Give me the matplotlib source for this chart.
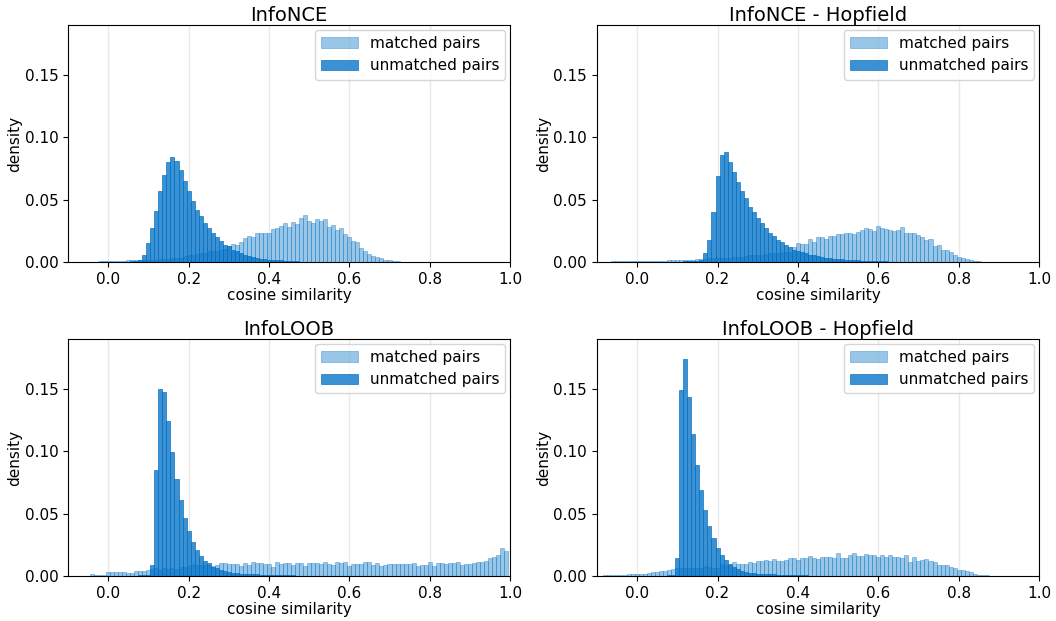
import numpy as np
import matplotlib
matplotlib.use("Agg")
import matplotlib.pyplot as plt

# bin centres in steps of 0.01 from -0.10 to 1.00
bin_centres = np.arange(-10, 101) / 100.0
bin_width = 0.01

# per-bin fractions (x 1e-3), k = -10 ... 100
nce_matched = [
    0.2, 0.2, 0.2, 0.3, 0.3, 0.3, 0.4, 0.4, 0.5, 0.5,
    0.6, 0.6, 0.7, 0.8, 0.9, 1.3, 1.4, 1.5, 1.6, 1.7,
    1.8, 2.0, 2.0, 2.1, 2.5, 2.8, 3.0, 3.1, 3.2, 4.5,
    5.5, 6.0, 6.2, 7.0, 7.2, 8.5, 9.0, 9.2, 10.0, 10.5,
    13.0, 14.7, 14.0, 16.0, 19.0, 20.5, 20.0, 23.0, 23.0, 23.7,
    23.7, 26.9, 27.0, 29.3, 31.7, 28.5, 32.5, 30.9, 35.7, 38.1,
    33.3, 31.7, 34.9, 33.3, 34.9, 28.5, 30.1, 26.1, 27.7, 22.1,
    19.7, 16.5, 15.7, 10.9, 8.5, 6.1, 4.5, 3.7, 2.9, 1.3,
    1.3, 0.8, 0.5, 0.3, 0.2, 0.1, 0, 0, 0, 0,
    0, 0, 0, 0, 0, 0, 0, 0, 0, 0,
    0, 0, 0, 0, 0, 0, 0, 0, 0, 0,
    0,
]
nce_unmatched = [
    0, 0, 0, 0, 0, 0.1, 0.1, 0.1, 0.1, 0.1,
    0.2, 0.2, 0.2, 0.3, 0.3, 0.4, 0.5, 1.0, 2.0, 6.0,
    15.0, 27.0, 41.0, 57.0, 70.0, 80.0, 84.0, 81.0, 74.0, 65.0,
    57.0, 49.0, 42.0, 37.0, 31.0, 27.0, 23.0, 20.0, 17.0, 14.0,
    12.5, 10.0, 8.5, 7.0, 5.6, 4.5, 3.7, 3.0, 2.7, 2.4,
    2.0, 1.8, 1.5, 1.3, 1.1, 0.9, 0.7, 0.5, 0.4, 0.3,
    0.3, 0.2, 0.2, 0.2, 0.1, 0.1, 0, 0, 0, 0,
    0, 0, 0, 0, 0, 0, 0, 0, 0, 0,
    0, 0, 0, 0, 0, 0, 0, 0, 0, 0,
    0, 0, 0, 0, 0, 0, 0, 0, 0, 0,
    0, 0, 0, 0, 0, 0, 0, 0, 0, 0,
    0,
]
hnce_matched = [
    0.3, 0.3, 0.4, 0.4, 0.5, 0.5, 0.5, 0.5, 0.5, 0.5,
    0.5, 0.5, 0.5, 0.6, 0.6, 0.6, 0.7, 0.8, 1.3, 1.4,
    1.4, 1.5, 1.5, 1.6, 2.0, 2.2, 2.6, 2.8, 3.0, 3.0,
    3.1, 3.1, 3.2, 3.6, 3.8, 4.0, 4.2, 5.0, 5.3, 5.5,
    5.8, 6.0, 6.2, 7.0, 7.3, 7.5, 7.8, 8.0, 8.2, 11.7,
    14.9, 14.1, 14.1, 18.1, 15.7, 19.7, 19.7, 18.1, 20.5, 20.5,
    22.9, 22.9, 23.7, 23.7, 22.9, 24.5, 26.1, 27.7, 26.9, 25.3,
    29.3, 27.7, 26.9, 26.1, 25.3, 26.1, 28.5, 23.7, 23.7, 23.7,
    21.3, 19.7, 17.3, 18.1, 12.5, 13.3, 9.3, 9.3, 7.7, 5.3,
    3.7, 2.9, 2.1, 1.3, 0.8, 0.5, 0.3, 0.2, 0.1, 0,
    0, 0, 0, 0, 0, 0, 0, 0, 0, 0,
    0,
]
hnce_unmatched = [
    0.2, 0.2, 0.2, 0.2, 0.2, 0.2, 0.2, 0.2, 0.2, 0.2,
    0.2, 0.2, 0.2, 0.2, 0.2, 0.3, 0.3, 0.3, 0.3, 0.3,
    0.4, 0.4, 0.5, 0.5, 0.6, 0.8, 1.6, 7.0, 18.0, 40.5,
    69.0, 86.0, 88.0, 80.0, 72.5, 64.5, 57.0, 51.0, 44.5, 40.0,
    35.0, 31.0, 27.0, 23.7, 20.5, 18.0, 15.7, 13.3, 11.7, 10.0,
    8.8, 7.7, 7.0, 6.0, 5.3, 4.5, 4.0, 3.2, 3.0, 2.5,
    2.2, 2.1, 2.0, 1.6, 1.4, 1.3, 1.2, 1.0, 0.9, 0.8,
    0.7, 0.6, 0.5, 0.4, 0.4, 0.3, 0.3, 0.2, 0.2, 0.1,
    0.1, 0, 0, 0, 0, 0, 0, 0, 0, 0,
    0, 0, 0, 0, 0, 0, 0, 0, 0, 0,
    0, 0, 0, 0, 0, 0, 0, 0, 0, 0,
    0,
]
loob_matched = [
    0.2, 0.2, 0.3, 0.3, 0.3, 0.3, 1.2, 0.8, 0.8, 0.8,
    3.0, 3.0, 3.0, 3.0, 3.0, 2.0, 2.0, 3.7, 3.7, 3.7,
    4.5, 5.5, 6.0, 5.0, 6.0, 5.2, 6.0, 5.2, 7.5, 7.5,
    8.3, 9.9, 9.0, 8.5, 8.5, 9.0, 8.3, 9.1, 10.7, 10.7,
    9.9, 9.9, 9.9, 8.3, 10.7, 9.1, 11.5, 10.7, 10.7, 9.9,
    9.9, 7.5, 11.5, 9.9, 10.7, 10.7, 9.1, 10.7, 10.7, 8.3,
    10.7, 10.7, 10.7, 9.9, 11.5, 9.9, 9.1, 11.5, 10.7, 11.5,
    8.3, 9.9, 9.9, 9.9, 11.5, 11.5, 9.1, 10.7, 8.3, 9.1,
    9.9, 9.9, 9.9, 9.9, 9.9, 9.9, 10.7, 8.3, 9.1, 9.1,
    11.5, 8.3, 10.7, 10.7, 9.9, 10.7, 10.7, 11.5, 9.1, 9.9,
    9.9, 10.7, 11.5, 11.5, 12.3, 14.7, 15.5, 17.1, 22.7, 20.3,
    0,
]
loob_unmatched = [
    0.1, 0.1, 0.1, 0.1, 0.1, 0.1, 0.1, 0.1, 0.1, 0.1,
    0.1, 0.1, 0.2, 0.2, 0.2, 0.2, 0.3, 0.3, 0.4, 0.5,
    1.0, 9.1, 85.0, 150.0, 147.5, 124.0, 99.5, 77.9, 61.0, 46.7,
    36.3, 27.5, 21.1, 16.3, 12.3, 10.7, 7.5, 6.7, 5.1, 4.3,
    3.5, 2.7, 2.7, 1.9, 1.9, 1.6, 1.3, 1.3, 1.1, 1.1,
    1.0, 0.9, 0.8, 0.7, 0.6, 0.5, 0.4, 0.3, 0.2, 0.2,
    0.1, 0, 0, 0, 0, 0, 0, 0, 0, 0,
    0, 0, 0, 0, 0, 0, 0, 0, 0, 0,
    0, 0, 0, 0, 0, 0, 0, 0, 0, 0,
    0, 0, 0, 0, 0, 0, 0, 0, 0, 0,
    0, 0, 0, 0, 0, 0, 0, 0, 0, 0,
    0,
]
hloob_matched = [
    0.3, 0.3, 0.5, 0.5, 0.6, 0.8, 0.8, 0.8, 1.9, 1.9,
    1.9, 1.9, 1.9, 2.7, 3.5, 3.5, 4.3, 4.3, 5.0, 5.9,
    6.0, 6.0, 6.5, 6.0, 6.0, 6.7, 6.0, 8.0, 7.5, 6.7,
    6.7, 9.9, 9.0, 9.0, 11.5, 9.9, 9.9, 9.9, 11.5, 10.7,
    12.3, 12.3, 13.0, 12.3, 13.9, 12.3, 12.3, 13.0, 14.7, 14.7,
    13.1, 14.7, 14.7, 16.3, 14.7, 13.9, 15.5, 15.5, 15.5, 14.7,
    18.7, 14.7, 14.7, 17.1, 18.7, 16.3, 16.3, 17.9, 17.1, 17.1,
    15.5, 17.1, 15.5, 17.1, 15.5, 15.5, 14.7, 17.1, 11.5, 15.5,
    12.3, 13.1, 13.9, 12.3, 11.5, 9.1, 9.1, 9.1, 7.5, 6.7,
    5.1, 5.1, 4.3, 3.5, 1.9, 1.1, 1.1, 1.1, 0.3, 0.3,
    0, 0, 0, 0, 0, 0, 0, 0, 0, 0,
    0,
]
hloob_unmatched = [
    0.1, 0.1, 0.1, 0.1, 0.1, 0.1, 0.1, 0.1, 0.1, 0.1,
    0.1, 0.1, 0.1, 0.2, 0.2, 0.2, 0.3, 0.3, 0.4, 0.5,
    14.7, 149.0, 174.0, 143.5, 113.9, 89.0, 69.0, 53.0, 40.3, 30.7,
    22.7, 17.1, 13.1, 9.9, 7.5, 5.9, 4.3, 3.5, 2.7, 2.7,
    1.9, 1.9, 1.6, 1.3, 1.3, 1.0, 1.0, 0.9, 0.8, 0.8,
    0.6, 0.5, 0.5, 0.3, 0.2, 0.1, 0, 0, 0, 0,
    0, 0, 0, 0, 0, 0, 0, 0, 0, 0,
    0, 0, 0, 0, 0, 0, 0, 0, 0, 0,
    0, 0, 0, 0, 0, 0, 0, 0, 0, 0,
    0, 0, 0, 0, 0, 0, 0, 0, 0, 0,
    0, 0, 0, 0, 0, 0, 0, 0, 0, 0,
    0,
]

titles = ["InfoNCE", "InfoNCE - Hopfield", "InfoLOOB", "InfoLOOB - Hopfield"]
matched = [nce_matched, hnce_matched, loob_matched, hloob_matched]
unmatched = [nce_unmatched, hnce_unmatched, loob_unmatched, hloob_unmatched]

base = "#0070c4"

fig = plt.figure(figsize=(10.56, 6.21), dpi=100)
positions = [
    [0.0644, 0.578, 0.4186, 0.3816],
    [0.5653, 0.578, 0.4186, 0.3816],
    [0.0644, 0.0725, 0.4186, 0.3816],
    [0.5653, 0.0725, 0.4186, 0.3816],
]

for pos, title, m, u in zip(positions, titles, matched, unmatched):
    ax = fig.add_axes(pos)
    ax.set_axisbelow(True)
    ax.grid(axis="x", color="#e8e8e8", linewidth=1.0)
    ax.bar(bin_centres, np.array(m) / 1000.0, width=bin_width, color=base,
           alpha=0.4, edgecolor=base, linewidth=0.6, label="matched pairs")
    ax.bar(bin_centres, np.array(u) / 1000.0, width=bin_width, color=base,
           alpha=0.77, edgecolor=base, linewidth=0.6, label="unmatched pairs")
    ax.set_xlim(-0.1, 1.0)
    ax.set_ylim(0, 0.19)
    ax.set_xticks([0.0, 0.2, 0.4, 0.6, 0.8, 1.0])
    ax.set_yticks([0.0, 0.05, 0.10, 0.15])
    ax.set_yticklabels(["0.00", "0.05", "0.10", "0.15"])
    ax.tick_params(labelsize=11)
    ax.set_xlabel("cosine similarity", fontsize=11, labelpad=1)
    ax.set_ylabel("density", fontsize=11, labelpad=2)
    ax.set_title(title, fontsize=14, pad=3)
    ax.legend(loc="upper right", fontsize=11, borderaxespad=0.3,
              handlelength=2.4)

fig.savefig("out.png", dpi=100)
